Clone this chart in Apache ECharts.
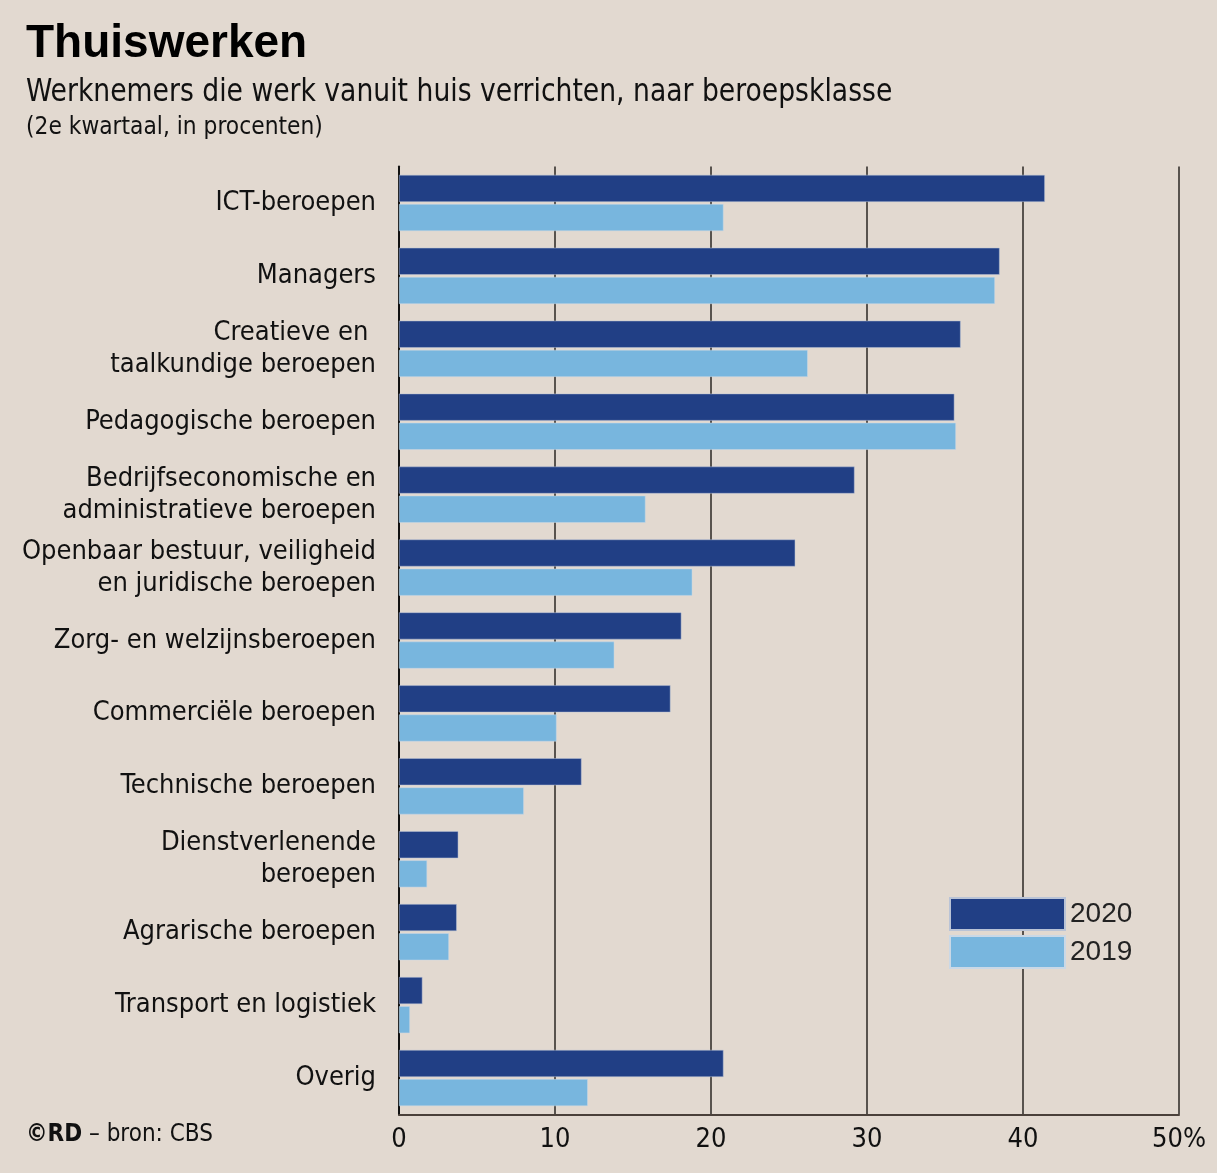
<!DOCTYPE html>
<html><head><meta charset="utf-8">
<script src="https://cdn.jsdelivr.net/npm/echarts@6/dist/echarts.min.js"></script>
<style>html,body{margin:0;padding:0;background:#e2d9d0;}#c{width:1217px;height:1173px;}</style>
</head><body><div id="c"></div>
<script>
var categories = ["ICT-beroepen","Managers","Creatieve en \ntaalkundige beroepen","Pedagogische beroepen","Bedrijfseconomische en\nadministratieve beroepen","Openbaar bestuur, veiligheid\nen juridische beroepen","Zorg- en welzijnsberoepen","Commerciële beroepen","Technische beroepen","Dienstverlenende\nberoepen","Agrarische beroepen","Transport en logistiek","Overig"];
var values2020 = [41.4,38.5,36.0,35.6,29.2,25.4,18.1,17.4,11.7,3.8,3.7,1.5,20.8];
var values2019 = [20.8,38.2,26.2,35.7,15.8,18.8,13.8,10.1,8.0,1.8,3.2,0.7,12.1];
var xTicks = [0,10,20,30,40,50];

var NARROW = '"Liberation Sans Narrow","DejaVu Sans Condensed",sans-serif';
var chart = echarts.init(document.getElementById('c'), null, {renderer:'canvas'});
chart.setOption({
  backgroundColor:'#e2d9d0',
  animation:false,
  graphic:[
    {type:'text', x:26, y:21, style:{text:'Thuiswerken', font:'bold 46px "Liberation Sans",Arial,sans-serif', fill:'#000', textVerticalAlign:'top'}},
    {type:'text', x:26, y:77, scaleX:0.925, style:{text:'Werknemers die werk vanuit huis verrichten, naar beroepsklasse', font:'32px '+NARROW, fill:'#111', textVerticalAlign:'top'}},
    {type:'text', x:26, y:115, scaleX:0.97, style:{text:'(2e kwartaal, in procenten)', font:'25px '+NARROW, fill:'#111', textVerticalAlign:'top'}},
    {type:'text', x:26, y:1123,
      style:{text:'{b|©RD} – bron: CBS', font:'24px '+NARROW, fill:'#111',
        rich:{b:{fontFamily:NARROW, fontWeight:'bold', fontSize:24, fill:'#111'}}}}
  ],
  legend:{
    orient:'vertical', left:949, top:897, padding:0, itemWidth:115, itemHeight:32, itemGap:4,
    icon:'rect',
    textStyle:{fontFamily:'"Liberation Sans",Arial,sans-serif', fontSize:28, color:'#222'},
    data:['2020','2019']
  },
  grid:{left:399, right:38, top:166.5, bottom:58.5, containLabel:false},
  xAxis:{
    type:'value', min:0, max:50, interval:10,
    axisLine:{show:true, lineStyle:{color:'#4a403a', width:2}},
    axisTick:{show:false},
    splitLine:{show:true, lineStyle:{color:'#2a2623', width:1.5}},
    axisLabel:{fontFamily:NARROW, fontSize:27, color:'#111', margin:12,
      formatter:function(v){return v===50 ? '50%' : String(v);}}
  },
  yAxis:{
    type:'category', data:categories, inverse:true,
    axisLine:{show:true, lineStyle:{color:'#111', width:2}},
    axisTick:{show:false},
    axisLabel:{fontFamily:NARROW, fontSize:27, color:'#111', margin:23, lineHeight:32, align:'right'}
  },
  series:[
    {name:'2020', type:'bar', data:values2020, barWidth:27, barGap:'8%',
      itemStyle:{color:'#213f85', borderColor:'#b9c3d6', borderWidth:0.5}},
    {name:'2019', type:'bar', data:values2019, barWidth:27, barGap:'8%',
      itemStyle:{color:'#78b6de', borderColor:'#cad8e6', borderWidth:0.5}}
  ]
});
</script></body></html>
